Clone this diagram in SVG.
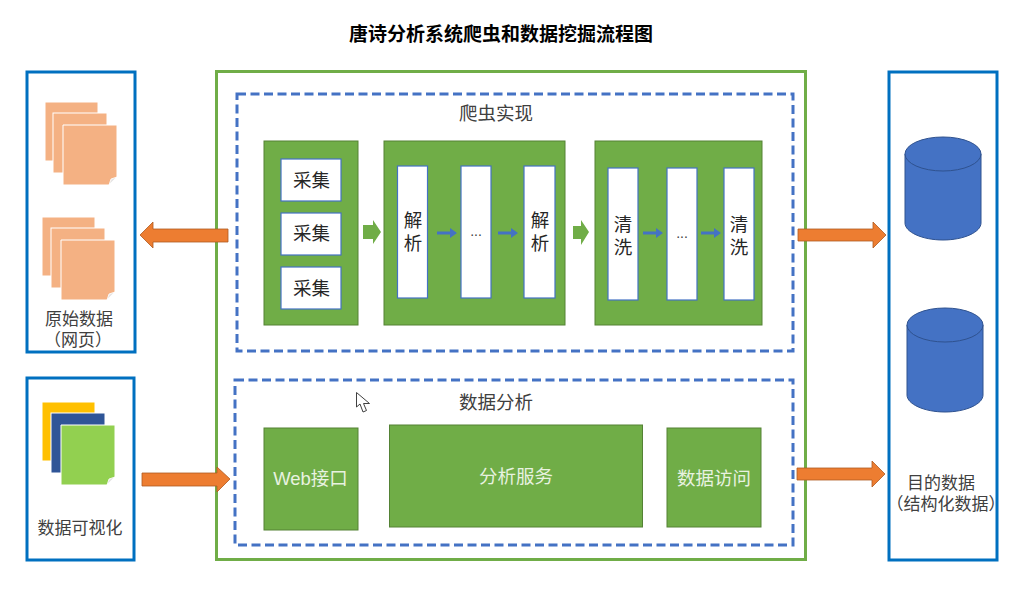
<svg xmlns="http://www.w3.org/2000/svg" width="1019" height="589" viewBox="0 0 1019 589">
<style>
text{font-family:"Liberation Sans","Noto Sans CJK SC",sans-serif;text-anchor:middle;fill:#404040;font-size:17px}
.title{font-size:19px;font-weight:700;fill:#000}
.big{font-size:18.500px}
.dk{fill:#262626;font-size:18.500px}
.dots{fill:#404040;font-size:14px}
.wt{fill:#e8f2e0;font-size:18.500px}
.frame{fill:none;stroke:#0070c0;stroke-width:3}
.outer{fill:none;stroke:#70ad47;stroke-width:3}
.dash{fill:none;stroke:#4472c4;stroke-width:3;stroke-dasharray:9 4.5}
.gbox{fill:#70ad47;stroke:#548235;stroke-width:1}
.wbox{fill:#fff;stroke:#4472c4;stroke-width:1.200}
.orange{fill:#ed7d31;stroke:#ae5a21;stroke-width:.8}
.barrow{fill:#4472c4}
.garrow{fill:#70ad47}
.page{stroke:#fff;stroke-width:1}
.peach{fill:#f4b183}
.fold{fill:#e7e6e6;stroke:#fff;stroke-width:.8}
.db{fill:#4472c4;stroke:#2f528f;stroke-width:1}
</style>
<defs>
<path id="pg" d="M0 0H54V52L46 60H0Z"/>
<path id="fd" d="M46 60L48 54 54 52Z"/>
</defs>
<text class="title" x="501" y="41">唐诗分析系统爬虫和数据挖掘流程图</text>

<g id="source-frame">
<rect class="frame" x="27" y="72" width="108" height="280"/>
<g id="pages-1" class="peach">
<rect class="page" x="45" y="102" width="53" height="59"/>
<rect class="page" x="53" y="113" width="54" height="60"/>
<use href="#pg" class="page" x="63" y="125"/><use href="#fd" class="fold" x="63" y="125"/>
</g>
<g id="pages-2" class="peach">
<rect class="page" x="42" y="217" width="53" height="59"/>
<rect class="page" x="51" y="228" width="54" height="60"/>
<use href="#pg" class="page" x="61" y="240"/><use href="#fd" class="fold" x="61" y="240"/>
</g>
<text x="79" y="325">原始数据</text>
<text x="78" y="346">（网页）</text>
</g>

<g id="visual-frame">
<rect class="frame" x="27" y="378" width="107" height="182"/>
<g id="pages-3">
<rect class="page" x="42" y="402" width="53" height="59" fill="#ffc000"/>
<rect class="page" x="51" y="413" width="54" height="60" fill="#2f5597"/>
<use href="#pg" class="page" x="61" y="425" fill="#92d050"/><use href="#fd" class="fold" x="61" y="425"/>
</g>
<text x="80" y="534">数据可视化</text>
</g>

<g id="system-frame"><rect class="outer" x="216.500" y="71.500" width="589" height="488"/></g>

<g id="crawler">
<rect class="dash" x="237" y="94" width="556" height="257"/>
<text class="big" x="496" y="120">爬虫实现</text>
<g id="collect">
<rect class="gbox" x="264" y="141" width="94" height="184"/>
<rect class="wbox" x="281" y="159" width="60" height="42"/><text class="dk" x="311.500" y="187">采集</text>
<rect class="wbox" x="281" y="213" width="60" height="42"/><text class="dk" x="311.500" y="240">采集</text>
<rect class="wbox" x="281" y="267" width="60" height="42"/><text class="dk" x="311.500" y="295">采集</text>
</g>
<g id="parse">
<rect class="gbox" x="384" y="141" width="181" height="184"/>
<rect class="wbox" x="397.500" y="166" width="30" height="132"/><text class="dk" x="413" y="227">解</text><text class="dk" x="413" y="250">析</text>
<rect class="wbox" x="461" y="166" width="30" height="132"/><text class="dots" x="476" y="236">...</text>
<rect class="wbox" x="524" y="166" width="31" height="132"/><text class="dk" x="540" y="227">解</text><text class="dk" x="540" y="250">析</text>
</g>
<g id="clean">
<rect class="gbox" x="595" y="141" width="167" height="184"/>
<rect class="wbox" x="608" y="168" width="30" height="132"/><text class="dk" x="623" y="231">清</text><text class="dk" x="623" y="254">洗</text>
<rect class="wbox" x="667" y="168" width="30" height="132"/><text class="dots" x="682" y="238">...</text>
<rect class="wbox" x="724" y="168" width="30" height="132"/><text class="dk" x="739" y="231">清</text><text class="dk" x="739" y="254">洗</text>
</g>
</g>

<g id="analysis">
<rect class="dash" x="235" y="380" width="558" height="165"/>
<text class="big" x="496" y="409">数据分析</text>
<g id="web"><rect class="gbox" x="264" y="428" width="94" height="102"/><text class="wt" x="310.500" y="485">Web接口</text></g>
<g id="service"><rect class="gbox" x="389.500" y="425" width="253" height="102"/><text class="wt" x="516" y="483">分析服务</text></g>
<g id="access"><rect class="gbox" x="667" y="428" width="94" height="99"/><text class="wt" x="714" y="485">数据访问</text></g>
</g>

<g id="target-frame">
<rect class="frame" x="889" y="72" width="108" height="488"/>
<g id="db-1">
<path class="db" d="M905 154V223C905 232 922 240 943 240S981 232 981 223V154Z"/>
<ellipse class="db" cx="943" cy="154" rx="38" ry="17"/>
</g>
<g id="db-2">
<path class="db" d="M907 325V395C907 404 924 412 945 412S983 404 983 395V325Z"/>
<ellipse class="db" cx="945" cy="325" rx="38" ry="17"/>
</g>
<text x="941" y="489">目的数据</text>
<text x="946" y="510">（结构化数据）</text>
</g>

<g id="connectors">
<path class="orange" d="M228 229H153V222L140 235 153 248V242H228Z"/>
<path class="orange" d="M142 473H217V467L230 479 217 492V486H142Z"/>
<path class="orange" d="M798 229H873V222L886 235 873 248V241H798Z"/>
<path class="orange" d="M797 468H872V461L885 474 872 487V480H797Z"/>
<path class="garrow" d="M363 225H373V220L381 232 373 244V239H363Z"/>
<path class="garrow" d="M573 226H581V220L589 232 581 245V239H573Z"/>
<path class="barrow" d="M437 231.500H450V228L457 233 450 238V234.500H437Z"/>
<path class="barrow" d="M498 231.500H511V228L518 233 511 238V234.500H498Z"/>
<path class="barrow" d="M643 231.500H656V228L663 233 656 238V234.500H643Z"/>
<path class="barrow" d="M701 231.500H714V228L721 233 714 238V234.500H701Z"/>
</g>
<path id="cursor" d="M356.500 392.500V407L360 404 363 412 366.500 410.500 363.500 403.500 369.500 403.500Z" fill="#fff" stroke="#404040" stroke-width="1"/>
</svg>
